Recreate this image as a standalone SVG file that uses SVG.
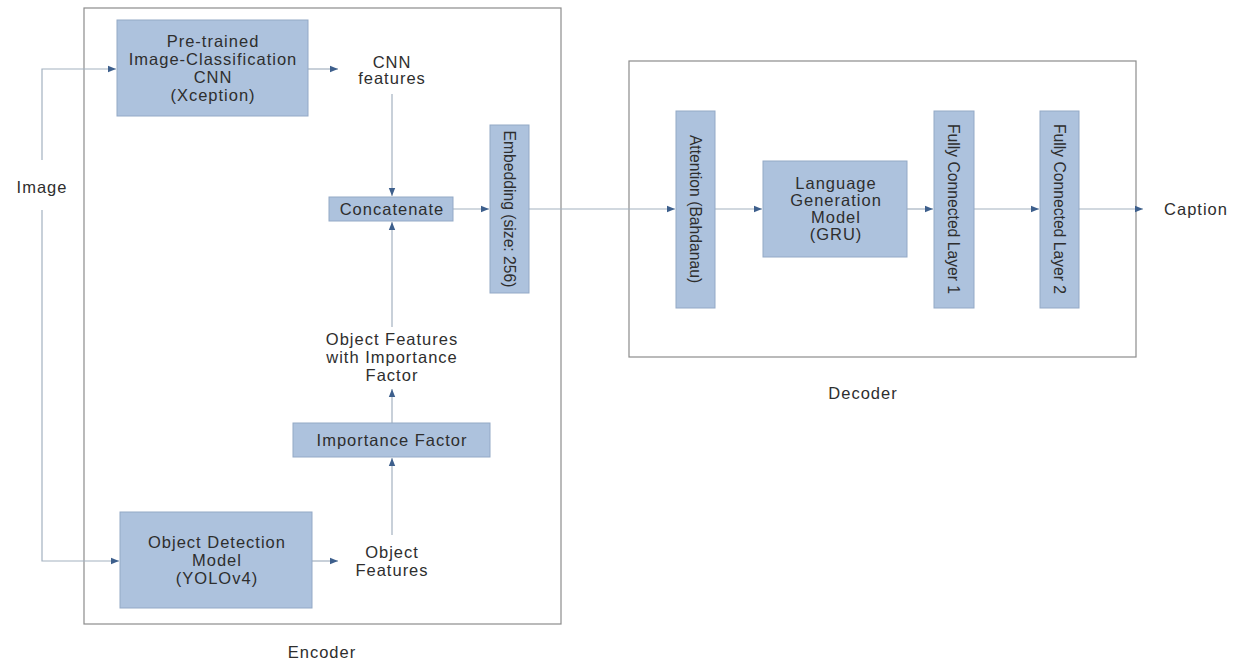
<svg xmlns="http://www.w3.org/2000/svg" width="1242" height="662" viewBox="0 0 1242 662">
<defs>
<marker id="ah" viewBox="0 0 10 10" refX="10" refY="5" markerWidth="8" markerHeight="8" markerUnits="userSpaceOnUse" orient="auto">
<path d="M0,1 L10,5 L0,9 Z" fill="#3d5f8c"/>
</marker>
</defs>
<style>
.frame{fill:none;stroke:#8c8c8c;stroke-width:1.2}
.box{fill:#adc2dd;stroke:#93a9c6;stroke-width:1}
.t{font-family:"Liberation Sans",Arial,sans-serif;font-size:16.5px;letter-spacing:1px;fill:#2e2e2e;text-anchor:middle}
.v{font-family:"Liberation Sans",Arial,sans-serif;font-size:15.7px;fill:#2e2e2e;text-anchor:middle}
.c{fill:none;stroke:#a3b1c0;stroke-width:1.2}
.ca{fill:none;stroke:#a3b1c0;stroke-width:1.2;marker-end:url(#ah)}
</style>
<rect width="1242" height="662" fill="#ffffff"/>
<g id="encoder-frame"><rect class="frame" x="84" y="8" width="477" height="616"/><text class="t" x="322" y="658">Encoder</text></g>
<g id="decoder-frame"><rect class="frame" x="629" y="61" width="507" height="296"/><text class="t" x="863" y="399">Decoder</text></g>
<g id="connectors">
<polyline class="ca" points="42,160 42,69 116,69"/>
<polyline class="ca" points="42,210 42,561 119,561"/>
<line class="ca" x1="308" y1="69" x2="338" y2="69"/>
<line class="ca" x1="392" y1="94" x2="392" y2="196"/>
<line class="ca" x1="392" y1="327" x2="392" y2="222"/>
<line class="ca" x1="453" y1="209" x2="489" y2="209"/>
<line class="ca" x1="529" y1="209" x2="675" y2="209"/>
<line class="ca" x1="715" y1="209" x2="762" y2="209"/>
<line class="ca" x1="907" y1="209" x2="933" y2="209"/>
<line class="ca" x1="974" y1="209" x2="1039" y2="209"/>
<line class="ca" x1="1079" y1="209" x2="1143" y2="209"/>
<line class="ca" x1="392" y1="423" x2="392" y2="389"/>
<line class="ca" x1="392" y1="535" x2="392" y2="458"/>
<line class="ca" x1="312" y1="561" x2="338" y2="561"/>
</g>
<g id="image"><text class="t" x="42" y="193">Image</text></g>
<g id="cnn"><rect class="box" x="117" y="20" width="191" height="96"/>
<text class="t" x="213" y="47">Pre-trained</text><text class="t" x="213" y="65">Image-Classification</text><text class="t" x="213" y="83">CNN</text><text class="t" x="213" y="101">(Xception)</text></g>
<g id="cnn-features"><text class="t" x="392" y="68">CNN</text><text class="t" x="392" y="84">features</text></g>
<g id="concatenate"><rect class="box" x="329" y="197" width="124" height="24"/><text class="t" x="392" y="215">Concatenate</text></g>
<g id="embedding"><rect class="box" x="490" y="125" width="39" height="168"/><text class="v" transform="translate(504,209) rotate(90)">Embedding (size: 256)</text></g>
<g id="obj-feat-imp"><text class="t" x="392" y="345">Object Features</text><text class="t" x="392" y="363">with Importance</text><text class="t" x="392" y="381">Factor</text></g>
<g id="importance"><rect class="box" x="293" y="423" width="197" height="34"/><text class="t" x="392" y="446">Importance Factor</text></g>
<g id="yolo"><rect class="box" x="120" y="512" width="192" height="96"/>
<text class="t" x="217" y="548">Object Detection</text><text class="t" x="217" y="566">Model</text><text class="t" x="217" y="584">(YOLOv4)</text></g>
<g id="obj-feat"><text class="t" x="392" y="558">Object</text><text class="t" x="392" y="576">Features</text></g>
<g id="attention"><rect class="box" x="676" y="111" width="39" height="197"/><text class="v" transform="translate(690,209) rotate(90)">Attention (Bahdanau)</text></g>
<g id="gru"><rect class="box" x="763" y="161" width="144" height="96"/>
<text class="t" x="836" y="189">Language</text><text class="t" x="836" y="206">Generation</text><text class="t" x="836" y="223">Model</text><text class="t" x="836" y="240">(GRU)</text></g>
<g id="fc1"><rect class="box" x="934" y="111" width="40" height="197"/><text class="v" transform="translate(948,209) rotate(90)">Fully Connected Layer 1</text></g>
<g id="fc2"><rect class="box" x="1040" y="111" width="39" height="197"/><text class="v" transform="translate(1054,209) rotate(90)">Fully Connected Layer 2</text></g>
<g id="caption"><text class="t" x="1196" y="215">Caption</text></g>
</svg>
